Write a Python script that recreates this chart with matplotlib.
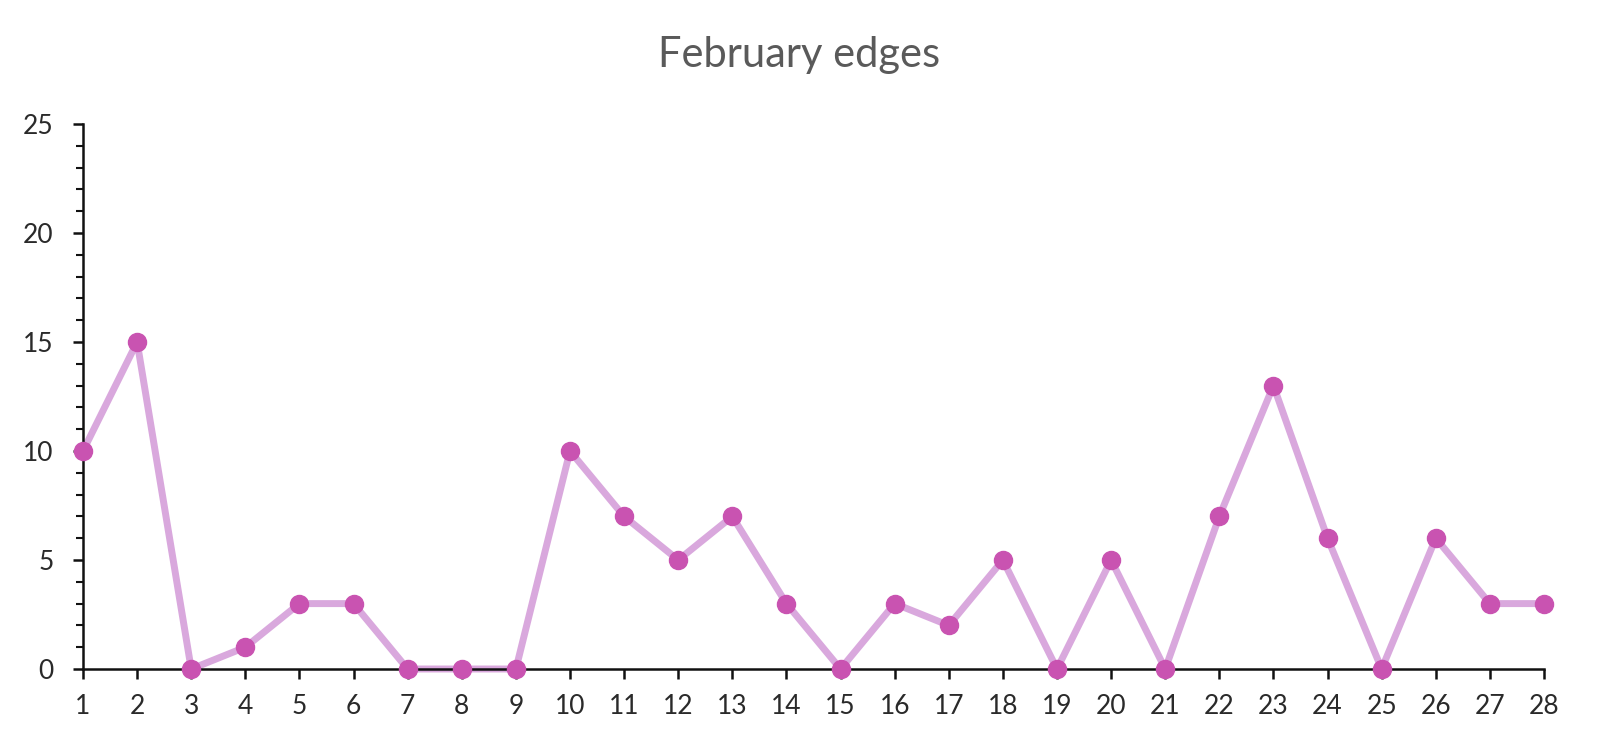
import matplotlib.pyplot as plt
from matplotlib.ticker import MultipleLocator

days = list(range(1, 29))
edges = [10, 15, 0, 1, 3, 3, 0, 0, 0, 10, 7, 5, 7, 3, 0, 3, 2, 5, 0, 5, 0, 7, 13, 6, 0, 6, 3, 3]
title = 'February edges'

plt.rcParams['font.family'] = ['Lato', 'DejaVu Sans']

W, H = 1599, 745
fig = plt.figure(figsize=(W / 100, H / 100), dpi=100)
ax = fig.add_axes([83 / W, (H - 669) / H, (1544 - 83) / W, (669 - 124) / H])

ax.plot(days, edges, color='#d9a8dd', linewidth=5, zorder=2, clip_on=False)
ax.plot(days, edges, ls='', marker='o', markersize=13, color='#c953b1', zorder=3, clip_on=False)

ax.set_xlim(1, 28)
ax.set_ylim(0, 25)
ax.set_xticks(days)
ax.yaxis.set_major_locator(MultipleLocator(5))
ax.yaxis.set_minor_locator(MultipleLocator(1))

for s in ['top', 'right']:
    ax.spines[s].set_visible(False)
for s in ['left', 'bottom']:
    ax.spines[s].set_linewidth(1.8)
    ax.spines[s].set_color('#111111')

ax.tick_params(which='major', length=7, width=1.8, color='#111111', labelsize=19,
               labelcolor='#2a2a2a')
ax.tick_params(axis='y', which='major', pad=14)
ax.tick_params(axis='x', which='major', pad=11)
ax.tick_params(which='minor', length=5, width=1.5, color='#111111')
ax.tick_params(axis='x', which='minor', length=0)

fig.text(0.5, (H - 55) / H, title, ha='center', va='center', fontsize=30, color='#5a5a5a')

fig.savefig('out.png', dpi=100)
